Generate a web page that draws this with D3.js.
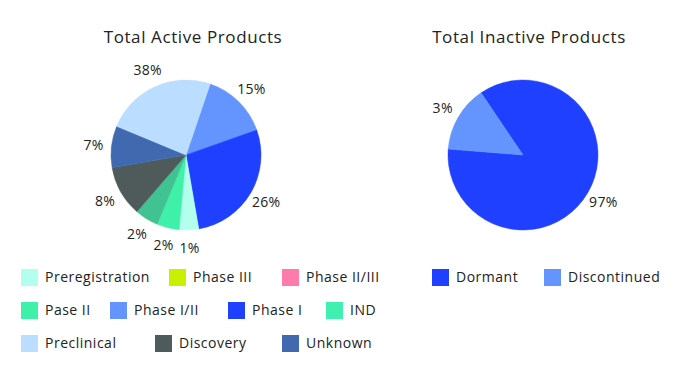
<!DOCTYPE html>
<html>
<head>
<meta charset="utf-8">
<script src="https://cdn.jsdelivr.net/npm/d3@7"></script>
<style>
  body { margin: 0; background: #fff; }
  text { font-family: "Open Sans", sans-serif; fill: #222; }
</style>
</head>
<body>
<div id="chart"></div>
<script>
// active products - slices in drawing order (clockwise)
var activeNames = ["Phase I/II", "Phase I", "Preregistration", "Pase II", "IND", "Discovery", "Unknown", "Preclinical"];
var activeShares = [14.4, 27.7, 4.2, 4.8, 5.1, 10.9, 9.0, 24.0];
var activeLabels = ["15%", "26%", "1%", "2%", "2%", "8%", "7%", "38%"];

// inactive products
var inactiveNames = ["Dormant", "Discontinued"];
var inactiveShares = [85.7, 14.3];
var inactiveLabels = ["97%", "3%"];

// legend rows
var legendRowsLeft = [
  ["Preregistration", "Phase III", "Phase II/III"],
  ["Pase II", "Phase I/II", "Phase I", "IND"],
  ["Preclinical", "Discovery", "Unknown"]
];
var legendRowsRight = [["Dormant", "Discontinued"]];

var colors = {
  "Preregistration": "#b3ffee",
  "Phase III": "#c8f000",
  "Phase II/III": "#ff7bac",
  "Pase II": "#3ef0a8",
  "Phase I/II": "#6495ff",
  "Phase I": "#2040ff",
  "IND": "#40f0b0",
  "Preclinical": "#bbddff",
  "Discovery": "#4e5b5a",
  "Unknown": "#4169b0",
  "Dormant": "#2040ff",
  "Discontinued": "#6495ff"
};
// the IND wedge is drawn darker than its legend swatch
var sliceColors = Object.assign({}, colors, { "IND": "#40c292" });

var width = 675, height = 372;
var svg = d3.select("#chart").append("svg")
  .attr("width", width)
  .attr("height", height);

function drawPie(cx, cy, title, titleX, names, shares, labels, startDeg) {
  var r = 75;
  var g = svg.append("g").attr("transform", "translate(" + cx + "," + cy + ")");

  var data = names.map(function(n, i) { return { name: n, value: shares[i], label: labels[i] }; });
  var start = startDeg * Math.PI / 180;
  var pie = d3.pie().sort(null).value(function(d) { return d.value; })
    .startAngle(start).endAngle(start + 2 * Math.PI);
  var arc = d3.arc().innerRadius(0).outerRadius(r);
  var labelArc = d3.arc().innerRadius(93).outerRadius(93);

  var arcs = pie(data);
  g.selectAll("path")
    .data(arcs)
    .enter().append("path")
      .attr("d", arc)
      .attr("fill", function(d) { return sliceColors[d.data.name]; })
      .attr("stroke", function(d) { return sliceColors[d.data.name]; })
      .attr("stroke-width", 0.5);

  g.selectAll(".lbl")
    .data(arcs)
    .enter().append("text")
      .attr("class", "lbl")
      .attr("transform", function(d) { return "translate(" + labelArc.centroid(d) + ")"; })
      .attr("text-anchor", "middle")
      .attr("dy", "0.35em")
      .style("font-size", "14px")
      .style("letter-spacing", "0.3px")
      .text(function(d) { return d.data.label; });

  svg.append("text")
    .attr("x", titleX)
    .attr("y", 43)
    .attr("text-anchor", "middle")
    .style("font-size", "17px")
    .style("letter-spacing", "0.6px")
    .text(title);
}

function drawLegend(rows, cols, y0) {
  rows.forEach(function(row, ri) {
    row.forEach(function(name, ci) {
      var x = cols[ri][ci], y = y0 + ri * 33;
      svg.append("rect")
        .attr("x", x).attr("y", y)
        .attr("width", 17).attr("height", 17)
        .attr("fill", colors[name]);
      svg.append("text")
        .attr("x", x + 24).attr("y", y + 8.5)
        .attr("dy", "0.35em")
        .style("font-size", "14px")
        .style("letter-spacing", "0.5px")
        .text(name);
    });
  });
}

drawPie(186, 155, "Total Active Products", 193, activeNames, activeShares, activeLabels, 18.8);
drawPie(523, 155, "Total Inactive Products", 529, inactiveNames, inactiveShares, inactiveLabels, -34);

drawLegend(legendRowsLeft, [[21, 169, 282], [21, 110, 228, 326], [21, 155, 282]], 269);
drawLegend(legendRowsRight, [[432, 544]], 269);
</script>
</body>
</html>
